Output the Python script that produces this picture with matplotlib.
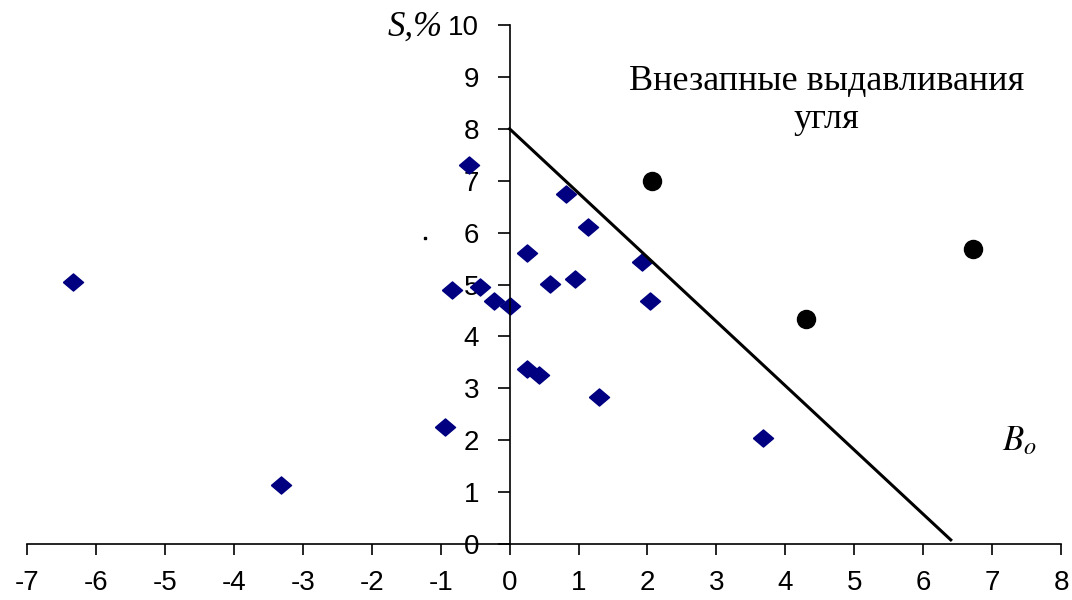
import matplotlib.pyplot as plt
import numpy as np

# B_o and S values for the two groups of observations
bo_normal = [-6.34, -3.31, -0.94, -0.84, -0.59, -0.43, -0.23, 0.01, 0.26, 0.26,
             0.43, 0.59, 0.82, 0.95, 1.14, 1.29, 1.92, 2.03, 3.67]
s_normal = [5.04, 1.14, 2.26, 4.89, 7.30, 4.95, 4.68, 4.59, 5.61, 3.38,
            3.25, 5.01, 6.74, 5.10, 6.10, 2.83, 5.43, 4.68, 2.05]

bo_outburst = [2.06, 4.30, 6.72]
s_outburst = [7.00, 4.34, 5.68]

# boundary line
line_bo = [0.0, 6.4]
line_s = [8.0, 0.08]

x_ticks = np.arange(-7, 9)
y_ticks = np.arange(0, 11)

fig = plt.figure(figsize=(10.72, 6), dpi=100)
ax = fig.add_axes([0.0252, 0.0933, 0.9646, 0.865])

diamond = [(-1, 0), (0, 0.85), (1, 0), (0, -0.85), (-1, 0)]
ax.plot(bo_normal, s_normal, linestyle='none', marker=diamond, markersize=14.5,
        color='#000080', clip_on=False)
ax.plot(bo_outburst, s_outburst, linestyle='none', marker='o', markersize=13,
        color='black', clip_on=False)
ax.plot(line_bo, line_s, color='black', linewidth=2.2)
ax.plot([-1.23], [5.9], linestyle='none', marker='s', markersize=2, color='black')

ax.set_xlim(-7, 8)
ax.set_ylim(0, 10)
ax.set_xticks(x_ticks)
ax.set_yticks(y_ticks)

ax.spines['left'].set_position(('data', 0))
ax.spines['bottom'].set_position(('data', 0))
ax.spines['top'].set_visible(False)
ax.spines['right'].set_visible(False)
for sp in ('left', 'bottom'):
    ax.spines[sp].set_linewidth(1.2)

tick_font = {'family': 'Liberation Sans', 'size': 20}
ax.set_xticklabels([str(v) for v in x_ticks], fontdict=tick_font)
ax.set_yticklabels([str(v) for v in y_ticks], fontdict=tick_font)
ax.tick_params(axis='x', direction='out', length=8, width=1.2, pad=11)
ax.tick_params(axis='y', direction='out', length=9, width=1.2, pad=13)

ax.text(-0.97, 9.95, 'S,%', family='Liberation Serif', style='italic',
        fontsize=25, ha='right', va='center')
ax.text(4.6, 8.55, 'Внезапные выдавливания\nугля', family='Liberation Serif',
        fontsize=26, ha='center', va='center', linespacing=1.2)
ax.text(7.4, 2.0, r'$B_o$', fontsize=25, ha='center', va='center',
        math_fontfamily='stix')

fig.savefig('out.png', dpi=100)
